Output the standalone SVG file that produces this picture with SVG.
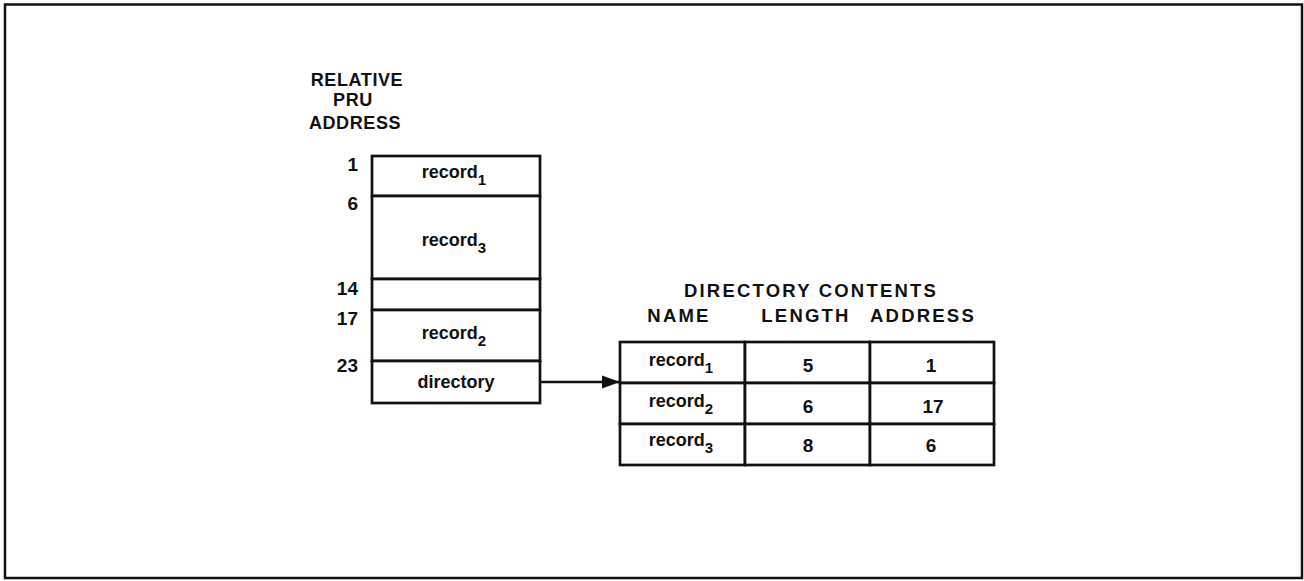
<svg xmlns="http://www.w3.org/2000/svg" width="1304" height="581" viewBox="0 0 1304 581">
<style>
text{font-family:"Liberation Sans",Arial,sans-serif;font-weight:bold;fill:#111;font-size:18px}
.hdr{font-size:18.5px;letter-spacing:2.2px;text-anchor:middle}
.lhdr{font-size:18px;letter-spacing:0.6px;text-anchor:middle}
.num{font-size:19px;text-anchor:end}
.c{text-anchor:middle}
.n{text-anchor:middle;font-size:19px}
.cell{fill:#fff;stroke:#111;stroke-width:2.7}
.sub{font-size:15px}
.frame{fill:#fff;stroke:#111;stroke-width:2.5}
</style>
<defs>
<marker id="ah" markerWidth="20" markerHeight="14" refX="18" refY="7" orient="auto" markerUnits="userSpaceOnUse">
<path d="M0,0.5 L18,7 L0,13.5 Z" fill="#111"/>
</marker>
</defs>
<rect class="frame" x="5" y="4.5" width="1297" height="573.5"/>

<g id="pru-header">
<text class="lhdr" x="357" y="86">RELATIVE</text>
<text class="lhdr" x="353" y="106">PRU</text>
<text class="lhdr" x="355" y="129">ADDRESS</text>
</g>

<g id="addresses">
<text class="num" x="358" y="171">1</text>
<text class="num" x="358" y="210">6</text>
<text class="num" x="358" y="295">14</text>
<text class="num" x="358" y="325">17</text>
<text class="num" x="358" y="372">23</text>
</g>

<g id="file-record1">
<rect class="cell" x="372" y="156" width="168" height="40"/>
<text class="c" x="454" y="178">record<tspan class="sub" dy="7">1</tspan></text>
</g>
<g id="file-record3">
<rect class="cell" x="372" y="196" width="168" height="83"/>
<text class="c" x="454" y="246">record<tspan class="sub" dy="7">3</tspan></text>
</g>
<g id="file-empty">
<rect class="cell" x="372" y="279" width="168" height="31"/>
</g>
<g id="file-record2">
<rect class="cell" x="372" y="310" width="168" height="51"/>
<text class="c" x="454" y="339">record<tspan class="sub" dy="7">2</tspan></text>
</g>
<g id="file-directory">
<rect class="cell" x="372" y="361" width="168" height="42"/>
<text class="c" x="456" y="388">directory</text>
</g>

<g id="dir-header">
<text class="hdr" x="811" y="297">DIRECTORY CONTENTS</text>
<text class="hdr" x="679" y="322">NAME</text>
<text class="hdr" x="806" y="322">LENGTH</text>
<text class="hdr" x="923" y="322">ADDRESS</text>
</g>

<g id="dir-row1">
<rect class="cell" x="620" y="342" width="125" height="41"/>
<rect class="cell" x="745" y="342" width="125" height="41"/>
<rect class="cell" x="870" y="342" width="124" height="41"/>
<text class="c" x="681" y="366">record<tspan class="sub" dy="7">1</tspan></text>
<text class="n" x="808" y="372">5</text>
<text class="n" x="931" y="372">1</text>
</g>
<g id="dir-row2">
<rect class="cell" x="620" y="383" width="125" height="41"/>
<rect class="cell" x="745" y="383" width="125" height="41"/>
<rect class="cell" x="870" y="383" width="124" height="41"/>
<text class="c" x="681" y="407">record<tspan class="sub" dy="7">2</tspan></text>
<text class="n" x="808" y="413">6</text>
<text class="n" x="933" y="413">17</text>
</g>
<g id="dir-row3">
<rect class="cell" x="620" y="424" width="125" height="41"/>
<rect class="cell" x="745" y="424" width="125" height="41"/>
<rect class="cell" x="870" y="424" width="124" height="41"/>
<text class="c" x="681" y="446">record<tspan class="sub" dy="7">3</tspan></text>
<text class="n" x="808" y="452">8</text>
<text class="n" x="931" y="452">6</text>
</g>

<g id="connectors">
<line x1="540" y1="382" x2="620" y2="382" stroke="#111" stroke-width="2.4" marker-end="url(#ah)"/>
</g>
</svg>
